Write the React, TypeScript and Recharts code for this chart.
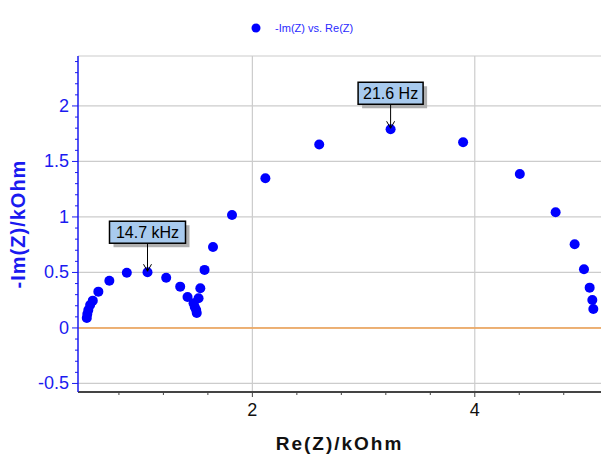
import React from 'react'
import {
  ScatterChart, Scatter, XAxis, YAxis, CartesianGrid, ReferenceLine, ReferenceDot,
} from 'recharts'

const BLUE = '#0000ff'
const AXIS_BLUE = '#1a1af0'
const FONT = '"Liberation Sans", Arial, sans-serif'

// Nyquist data, Re(Z) and -Im(Z) in kOhm
const reZ = [
  0.511, 0.516, 0.525, 0.541, 0.565, 0.615, 0.714, 0.871, 1.057, 1.225,
  1.351, 1.417, 1.471, 1.482, 1.495, 1.5, 1.516, 1.532, 1.570, 1.646,
  1.817, 2.117, 2.601, 3.243, 3.895, 4.405, 4.727, 4.898, 4.982, 5.033,
  5.057, 5.066,
]
const negImZ = [
  0.09, 0.126, 0.162, 0.207, 0.246, 0.327, 0.426, 0.498, 0.502, 0.453,
  0.372, 0.279, 0.223, 0.189, 0.162, 0.135, 0.268, 0.358, 0.523, 0.730,
  1.018, 1.349, 1.653, 1.790, 1.673, 1.387, 1.042, 0.754, 0.529, 0.363,
  0.252, 0.171,
]

const yTicks = [-0.5, -0.4, -0.3, -0.2, -0.1, 0, 0.1, 0.2, 0.3, 0.4, 0.5, 0.6, 0.7, 0.8, 0.9, 1,
  1.1, 1.2, 1.3, 1.4, 1.5, 1.6, 1.7, 1.8, 1.9, 2, 2.1, 2.2, 2.3, 2.4]
const yMajor = [-0.5, 0, 0.5, 1, 1.5, 2]
const xTicks = [0.8, 1.2, 1.6, 2, 2.4, 2.8, 3.2, 3.6, 4, 4.4, 4.8]
const xMajor = [2, 4]

const markers = [
  { x: 1.057, y: 0.502, label: '14.7 kHz' },
  { x: 3.243, y: 1.790, label: '21.6 Hz' },
]

const data = reZ.map((x, i) => ({ x, y: negImZ[i] }))

const isMajor = (v: number, list: number[]) => list.some((m) => Math.abs(m - v) < 1e-6)

function YTick(props: any) {
  const { x, y, payload } = props
  const major = isMajor(payload.value, yMajor)
  return (
    <g>
      <line x1={x} x2={x - (major ? 6 : 3)} y1={y} y2={y} stroke={AXIS_BLUE} strokeWidth={1} />
      {major && (
        <text x={x - 9} y={y} dy={6} textAnchor="end" fontSize={18} fill={AXIS_BLUE} fontFamily={FONT}>
          {payload.value}
        </text>
      )}
    </g>
  )
}

function XTick(props: any) {
  const { x, y, payload } = props
  const major = isMajor(payload.value, xMajor)
  return (
    <g>
      <line x1={x} x2={x} y1={y} y2={y + (major ? 5 : 3)} stroke="#444" strokeWidth={1} />
      {major && (
        <text x={x} y={y + 24} textAnchor="middle" fontSize={18} fill="#111" fontFamily={FONT}>
          {payload.value}
        </text>
      )}
    </g>
  )
}

function YLabel(props: any) {
  const { viewBox } = props
  const cy = viewBox.y + viewBox.height / 2
  return (
    <text x={25} y={cy} transform={`rotate(-90, 25, ${cy})`} textAnchor="middle"
      fontSize={20} fontWeight="bold" fill={AXIS_BLUE} fontFamily={FONT} letterSpacing={1}>
      -Im(Z)/kOhm
    </text>
  )
}

function Callout(props: any) {
  const { cx, cy, label } = props
  const w = label.length > 7 ? 76 : 65
  const h = 22
  const bx = cx - w / 2
  const by = cy - (label.length > 7 ? 51 : 47)
  return (
    <g>
      <rect x={bx + 4} y={by + 4} width={w} height={h} fill="#b0b0b0" />
      <rect x={bx} y={by} width={w} height={h} fill="#a8caee" stroke="#000" strokeWidth={1.5} />
      <text x={cx} y={by + 17} textAnchor="middle" fontSize={16} fill="#000" fontFamily={FONT}>
        {label}
      </text>
      <line x1={cx} x2={cx} y1={by + h} y2={cy - 1} stroke="#000" strokeWidth={1} />
      <polyline points={`${cx - 4},${cy - 8} ${cx},${cy - 1} ${cx + 4},${cy - 8}`} fill="none" stroke="#000" strokeWidth={1} />
    </g>
  )
}

export default function App() {
  return (
    <div style={{ position: 'absolute', left: 0, top: 0, width: 601, height: 454, background: '#fff' }}>
      <div style={{
        position: 'absolute', left: 250, top: 22, display: 'flex', alignItems: 'center',
        fontFamily: FONT, fontSize: 11, color: '#2a2aff',
      }}>
        <svg width={12} height={12} style={{ marginRight: 13 }}>
          <circle cx={6} cy={6} r={4.5} fill={BLUE} />
        </svg>
        -Im(Z) vs. Re(Z)
      </div>
      <ScatterChart width={601} height={454} margin={{ top: 56, right: 0, bottom: 0, left: 0 }}>
        <CartesianGrid
          stroke="#cccccc"
          strokeWidth={1.2}
          horizontalValues={yMajor}
          verticalValues={xMajor}
        />
        <line x1={78} x2={601} y1={56} y2={56} stroke="#cccccc" strokeWidth={1.2} />
        <XAxis
          type="number"
          dataKey="x"
          domain={[0.432, 5.135]}
          ticks={xTicks}
          tick={<XTick />}
          tickLine={false}
          tickSize={0}
          tickMargin={0}
          height={62}
          axisLine={{ stroke: '#444', strokeWidth: 2 }}
          allowDataOverflow
          label={{
            value: 'Re(Z)/kOhm', position: 'insideBottom', offset: 4,
            style: { fontSize: 19, fontWeight: 'bold', fill: '#111', fontFamily: FONT, letterSpacing: 2 },
          }}
        />
        <YAxis
          type="number"
          dataKey="y"
          domain={[-0.577, 2.45]}
          ticks={yTicks}
          tick={<YTick />}
          tickLine={false}
          tickSize={0}
          tickMargin={0}
          width={78}
          interval={0}
          axisLine={{ stroke: AXIS_BLUE, strokeWidth: 1.5 }}
          allowDataOverflow
          label={<YLabel />}
        />
        <ReferenceLine y={0} stroke="#f0a050" strokeWidth={1.5} />
        <Scatter data={data} fill={BLUE} isAnimationActive={false} shape={(p: any) => (
          <circle cx={p.cx} cy={p.cy} r={5} fill={BLUE} />
        )} />
        {markers.map((m) => (
          <ReferenceDot key={m.label} x={m.x} y={m.y} r={0}
            shape={(p: any) => <Callout cx={p.cx} cy={p.cy} label={m.label} />} />
        ))}
      </ScatterChart>
    </div>
  )
}
